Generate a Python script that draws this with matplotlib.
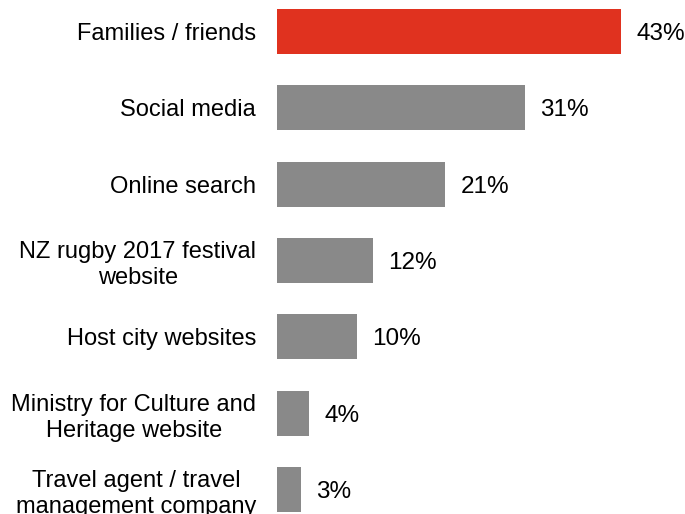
import matplotlib
matplotlib.use('Agg')
from matplotlib import pyplot as plt
from matplotlib.transforms import offset_copy

plt.rcParams['font.family'] = 'Liberation Sans'

# sources of information, top to bottom
sources = ['Families / friends',
           'Social media',
           'Online search',
           'NZ rugby 2017 festival\nwebsite',
           'Host city websites',
           'Ministry for Culture and\nHeritage website',
           'Travel agent / travel\nmanagement company']
share = [43, 31, 21, 12, 10, 4, 3]
share_labels = [f'{v}%' for v in share]

red = '#e0321f'
grey = '#898989'
fsize_cat = 17
fsize_val = 17.5

fig = plt.figure(figsize=(6.85, 5.14), dpi=100)
ax = fig.add_axes([277 / 685, 0, 400 / 685, 1])

colors = [red] + [grey] * (len(share) - 1)
ypos = list(range(len(sources)))
bars = ax.barh(ypos, share, height=0.59, color=colors)

# value labels just past the end of each bar
shifted = offset_copy(ax.transData, fig=fig, x=11, y=0, units='points')
for y, v, lab in zip(ypos, share, share_labels):
    ax.text(v, y, lab, transform=shifted, fontsize=fsize_val,
            ha='left', va='center_baseline')

ax.set_xlim(0, 50)
ax.set_ylim(6.321, -0.413)
ax.set_yticks(ypos)
ax.set_yticklabels(sources, fontsize=fsize_cat, multialignment='center',
                   linespacing=1.25)
ax.tick_params(axis='y', length=0, pad=15)
ax.set_xticks([])
for s in ax.spines.values():
    s.set_visible(False)

fig.savefig('out.png', dpi=100)
